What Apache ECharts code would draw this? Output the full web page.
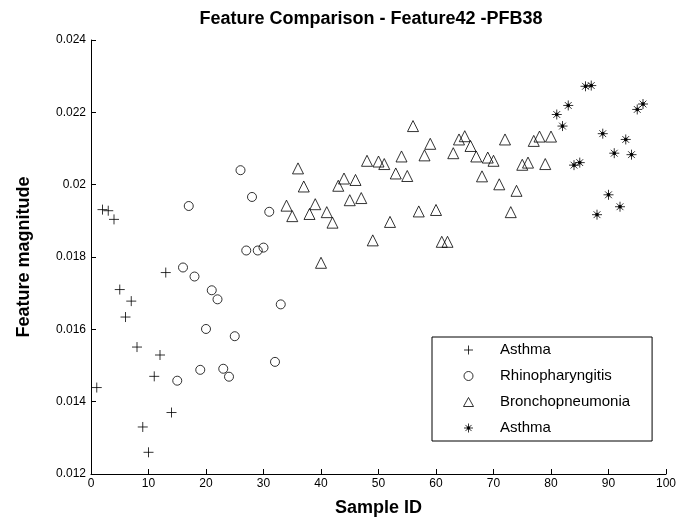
<!DOCTYPE html>
<html>
<head>
<meta charset="utf-8">
<script src="https://cdn.jsdelivr.net/npm/echarts@6/dist/echarts.min.js"></script>
<style>
html,body{margin:0;padding:0;background:#fff;}
#chart{width:692px;height:522px;}
</style>
</head>
<body>
<div id="chart"></div>
<script>
// ---- data ----
var asthmaX = [1,2,3,4,5,6,7,8,9,10,11,12,13,14];
var asthmaY = [0.01439,0.01931,0.01928,0.01904,0.0171,0.01634,0.01678,0.01551,0.0133,0.0126,0.0147,0.01529,0.01757,0.0137];

var rhinoX = [15,16,17,18,19,20,21,22,23,24,25,26,27,28,29,30,31,32,33];
var rhinoY = [0.01458,0.01771,0.01941,0.01746,0.01488,0.01601,0.01708,0.01683,0.01491,0.01469,0.01581,0.0204,0.01818,0.01966,0.01818,0.01826,0.01925,0.0151,0.01669];

var bronchoX = [34,35,36,37,38,39,40,41,42,43,44,45,46,47,48,49,50,51,52,53,54,55,56,57,58,59,60,61,62,63,64,65,66,67,68,69,70,71,72,73,74,75,76,77,78,79,80];
var bronchoY = [0.01942,0.01913,0.02045,0.01995,0.01919,0.01946,0.01784,0.01924,0.01895,0.01997,0.02017,0.01957,0.02013,0.01963,0.02066,0.01846,0.02064,0.02057,0.01897,0.02031,0.02078,0.02024,0.02162,0.01926,0.02081,0.02113,0.0193,0.01842,0.01842,0.02087,0.02125,0.02134,0.02107,0.02078,0.02023,0.02075,0.02066,0.02001,0.02125,0.01924,0.01983,0.02055,0.02061,0.02121,0.02133,0.02057,0.02133];

var asthma2X = [81,82,83,84,85,86,87,88,89,90,91,92,93,94,95,96];
var asthma2Y = [0.02194,0.02162,0.02219,0.02054,0.02061,0.02272,0.02274,0.01917,0.02141,0.01972,0.02087,0.01939,0.02125,0.02083,0.02208,0.02223];

var seriesNames = ['Asthma', 'Rhinopharyngitis', 'Bronchopneumonia', 'Asthma '];
var titleText = 'Feature Comparison - Feature42 -PFB38';
var xName = 'Sample ID';
var yName = 'Feature magnitude';

function pairs(xs, ys) { return xs.map(function (x, i) { return [x, ys[i]]; }); }

var FONT = '"Liberation Sans", Arial, Helvetica, sans-serif';
var PLUS = 'path://M5,0L5,10M0,5L10,5';
var TRI = 'path://M5,0L10,9L0,9Z';
var STAR = 'path://M5,0L5,10M0,5L10,5M1.6,1.6L8.4,8.4M8.4,1.6L1.6,8.4M3.8,3.8L6.2,3.8L6.2,6.2L3.8,6.2Z';

var chart = echarts.init(document.getElementById('chart'), null, {renderer: 'canvas'});
var hollow = {color: 'rgba(0,0,0,0)', borderColor: '#000', borderWidth: 1};

chart.setOption({
  backgroundColor: '#fff',
  animation: false,
  title: {
    text: titleText,
    left: 366, textAlign: 'center',
    top: 5,
    textStyle: {fontFamily: FONT, fontSize: 18, fontWeight: 'bold', color: '#000'}
  },
  grid: {left: 91, right: 26, top: 40, bottom: 45},
  xAxis: {
    type: 'value', min: 0, max: 100, interval: 10,
    name: xName, nameLocation: 'middle', nameGap: 25,
    nameTextStyle: {fontFamily: FONT, fontSize: 18, fontWeight: 'bold', color: '#000'},
    axisLine: {lineStyle: {color: '#000', width: 1}},
    axisTick: {inside: true, length: 5, lineStyle: {color: '#000'}},
    axisLabel: {fontFamily: FONT, fontSize: 12, color: '#000', margin: 4},
    splitLine: {show: false}
  },
  yAxis: {
    type: 'value', min: 0.012, max: 0.024, interval: 0.002,
    name: yName, nameLocation: 'middle', nameGap: 58,
    nameTextStyle: {fontFamily: FONT, fontSize: 18, fontWeight: 'bold', color: '#000'},
    axisLine: {lineStyle: {color: '#000', width: 1}},
    axisTick: {inside: true, length: 5, lineStyle: {color: '#000'}},
    axisLabel: {fontFamily: FONT, fontSize: 12, color: '#000', margin: 5},
    splitLine: {show: false}
  },
  legend: {
    orient: 'vertical',
    left: 432, top: 337,
    data: seriesNames,
    backgroundColor: '#fff',
    borderColor: '#000', borderWidth: 1, borderRadius: 0,
    padding: [3, 22, 3, 31],
    itemWidth: 53, itemHeight: 9, itemGap: 6,
    itemStyle: {borderWidth: 1},
    formatter: function (n) { return n.trim(); },
    textStyle: {fontFamily: FONT, fontSize: 15, color: '#000', lineHeight: 20}
  },
  series: [
    {name: seriesNames[0], type: 'scatter', symbol: PLUS, symbolSize: 10,
     itemStyle: {color: 'rgba(0,0,0,0)', borderColor: '#000', borderWidth: 1},
     data: pairs(asthmaX, asthmaY)},
    {name: seriesNames[1], type: 'scatter', symbol: 'circle', symbolSize: 9,
     itemStyle: hollow, data: pairs(rhinoX, rhinoY)},
    {name: seriesNames[2], type: 'scatter', symbol: TRI, symbolSize: 11,
     itemStyle: hollow, data: pairs(bronchoX, bronchoY)},
    {name: seriesNames[3], type: 'scatter', symbol: STAR, symbolSize: 10,
     itemStyle: {color: '#000', borderColor: '#000', borderWidth: 1},
     data: pairs(asthma2X, asthma2Y)}
  ]
});
</script>
</body>
</html>
